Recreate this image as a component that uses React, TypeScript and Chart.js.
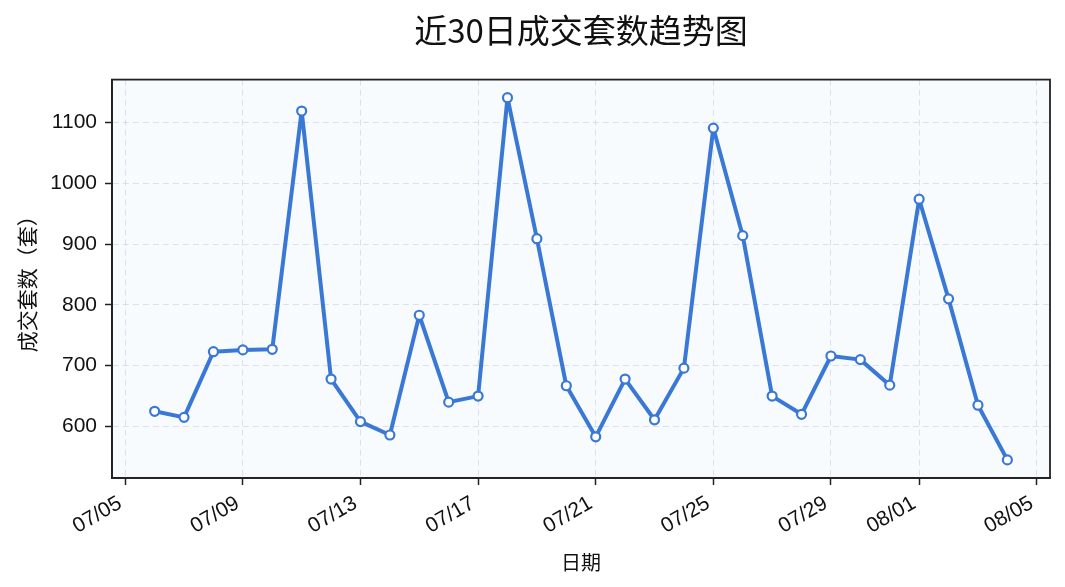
import React, { useEffect, useRef } from "react";
import { Chart, registerables } from "chart.js";

Chart.register(...registerables);

const titleText = "近30日成交套数趋势图";
const xAxisTitle = "日期";
const yAxisTitle = "成交套数（套）";

const dates = [
  "07/06", "07/07", "07/08", "07/09", "07/10", "07/11", "07/12", "07/13", "07/14", "07/15",
  "07/16", "07/17", "07/18", "07/19", "07/20", "07/21", "07/22", "07/23", "07/24", "07/25",
  "07/26", "07/27", "07/28", "07/29", "07/30", "07/31", "08/01", "08/02", "08/03", "08/04",
];
const deals = [
  625, 615, 723, 726, 727, 1119, 678, 608, 586, 783,
  640, 650, 1141, 909, 667, 583, 678, 611, 696, 1091,
  914, 650, 620, 716, 710, 668, 974, 810, 635, 545,
];
const xTickLabels = ["07/05", "07/09", "07/13", "07/17", "07/21", "07/25", "07/29", "08/01", "08/05"];
const yTickValues = [600, 700, 800, 900, 1000, 1100];

const BASE = "07/05";
function dayIndex(s: string): number {
  const [m, d] = s.split("/").map(Number);
  const [bm, bd] = BASE.split("/").map(Number);
  return Math.round((Date.UTC(2024, m - 1, d) - Date.UTC(2024, bm - 1, bd)) / 86400000);
}

const LINE = "#3a78d6";
const TICK_FONT = { family: "'Liberation Sans', Arial, sans-serif", size: 21 };
const CJK = "'Noto Sans CJK SC', sans-serif";

export default function App() {
  const ref = useRef<HTMLCanvasElement | null>(null);

  useEffect(() => {
    document.body.style.margin = "0";
    const canvas = ref.current;
    if (!canvas) return;

    const points = dates.map((d, i) => ({ x: dayIndex(d), y: deals[i] }));
    const xs = points.map((p) => p.x);
    const ys = points.map((p) => p.y);
    const xMin0 = Math.min(...xs), xMax0 = Math.max(...xs);
    const yMin0 = Math.min(...ys), yMax0 = Math.max(...ys);
    const xm = (xMax0 - xMin0) * 0.05;
    const ym = (yMax0 - yMin0) * 0.05;
    const xTickPos = xTickLabels.map(dayIndex);
    const labelByPos = new Map<number, string>();
    xTickPos.forEach((p, i) => labelByPos.set(p, xTickLabels[i]));

    const framePlugin = {
      id: "frame",
      afterLayout(chart: any) {
        const tb = chart.titleBlock;
        const ca = chart.chartArea;
        if (tb && ca) {
          tb.left = ca.left;
          tb.right = ca.right;
          tb.width = ca.right - ca.left;
        }
      },
      beforeDraw(chart: any) {
        const { ctx, chartArea } = chart;
        ctx.save();
        ctx.fillStyle = "#f8fbfe";
        ctx.fillRect(chartArea.left, chartArea.top, chartArea.right - chartArea.left, chartArea.bottom - chartArea.top);
        ctx.restore();
      },
      afterDraw(chart: any) {
        const { ctx, chartArea } = chart;
        ctx.save();
        ctx.strokeStyle = "#222222";
        ctx.lineWidth = 1.8;
        ctx.strokeRect(chartArea.left, chartArea.top, chartArea.right - chartArea.left, chartArea.bottom - chartArea.top);
        ctx.restore();
      },
    };

    const chart = new Chart(canvas, {
      type: "line",
      data: {
        datasets: [
          {
            data: points,
            borderColor: LINE,
            borderWidth: 4,
            borderJoinStyle: "round",
            borderCapStyle: "round",
            pointRadius: 4.5,
            pointBorderWidth: 2.2,
            pointBackgroundColor: "#ffffff",
            pointBorderColor: LINE,
            tension: 0,
            clip: false as any,
          },
        ],
      },
      options: {
        animation: false,
        responsive: false,
        maintainAspectRatio: false,
        layout: { padding: { left: 0, right: 15, top: 0, bottom: 0 } },
        plugins: {
          legend: { display: false },
          tooltip: { enabled: false },
          title: {
            display: true,
            text: titleText,
            color: "#111111",
            font: { family: CJK, size: 33, weight: "normal" as any, lineHeight: 1.2 },
            padding: { top: 11, bottom: 29 },
          },
        },
        scales: {
          x: {
            type: "linear",
            min: xMin0 - xm,
            max: xMax0 + xm,
            afterBuildTicks: (scale: any) => {
              scale.ticks = xTickPos.map((v) => ({ value: v }));
            },
            afterFit: (scale: any) => {
              scale.height = 109;
            },
            ticks: {
              autoSkip: false,
              minRotation: 30,
              maxRotation: 30,
              padding: 3,
              color: "#111111",
              font: TICK_FONT,
              callback: (v: any) => (labelByPos.get(Number(v)) ?? "") + " ",
            },
            grid: {
              color: "rgba(190,200,218,0.5)",
              lineWidth: 1,
              tickColor: "#222222",
              tickWidth: 1.5,
              tickLength: 7,
              tickBorderDash: [],
            },
            border: { display: true, color: "#222222", width: 1.8, dash: [6, 4] },
            title: {
              display: true,
              text: xAxisTitle,
              color: "#111111",
              font: { family: CJK, size: 20, lineHeight: 1.2 },
              padding: { top: 0, bottom: 13 },
            },
          },
          y: {
            type: "linear",
            min: yMin0 - ym,
            max: yMax0 + ym,
            afterBuildTicks: (scale: any) => {
              scale.ticks = yTickValues.map((v) => ({ value: v }));
            },
            afterFit: (scale: any) => {
              scale.width = 112;
            },
            ticks: {
              padding: 8,
              color: "#111111",
              font: TICK_FONT,
              callback: (v: any) => String(v),
            },
            grid: {
              color: "rgba(190,200,218,0.5)",
              lineWidth: 1,
              tickColor: "#222222",
              tickWidth: 1.5,
              tickLength: 7,
              tickBorderDash: [],
            },
            border: { display: true, color: "#222222", width: 1.8, dash: [6, 4] },
            title: {
              display: true,
              text: yAxisTitle,
              color: "#111111",
              font: { family: CJK, size: 21, lineHeight: 1.2 },
              padding: { top: 14, bottom: 0 },
            },
          },
        },
      },
      plugins: [framePlugin],
    });

    return () => chart.destroy();
  }, []);

  return (
    <div style={{ position: "absolute", left: 0, top: 0, width: 1065, height: 587, background: "#ffffff" }}>
      <canvas ref={ref} width={1065} height={587} style={{ width: 1065, height: 587, display: "block" }} />
    </div>
  );
}
